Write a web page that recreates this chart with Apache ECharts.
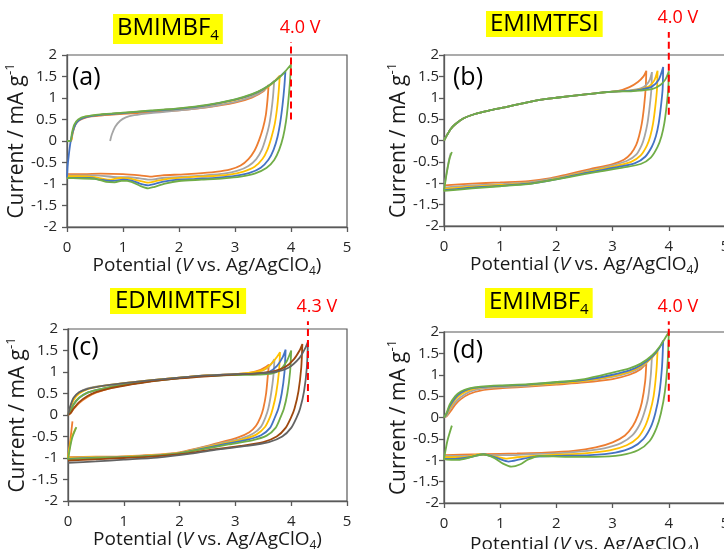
<!DOCTYPE html>
<html>
<head>
<meta charset="utf-8">
<script src="https://cdn.jsdelivr.net/npm/echarts@6/dist/echarts.min.js"></script>
<style>
  html, body { margin: 0; padding: 0; background: #fff; }
  #chart { width: 724px; height: 549px; }
</style>
</head>
<body>
<div id="chart"></div>
<script>
"use strict";

// ---- data: [potential V, current mA/g] ----

// (a) BMIMBF4
const aOrange = [[0,0],[0.07,0],[0.1,0.18],[0.15,0.38],[0.22,0.48],[0.35,0.55],[0.6,0.59],[1,0.63],[1.5,0.67],[2,0.71],[2.5,0.78],[3,0.89],[3.3,1.01],[3.5,1.15],[3.6,1.3],
  [3.58,0.95],[3.55,0.6],[3.5,0.3],[3.43,0.02],[3.35,-0.22],[3.24,-0.42],[3.1,-0.57],[2.92,-0.66],[2.65,-0.72],[2.3,-0.76],[2,-0.78],[1.7,-0.8],[1.5,-0.83],[1.3,-0.8],[1,-0.77],[0.6,-0.76],[0.3,-0.77],[0,-0.77]];
const aGray = [[0.77,0],[0.8,0.15],[0.86,0.33],[0.95,0.47],[1.05,0.55],[1.2,0.6],[1.5,0.65],[2,0.71],[2.5,0.79],[3,0.91],[3.3,1.03],[3.5,1.17],[3.7,1.4],
  [3.68,1.05],[3.65,0.7],[3.61,0.37],[3.55,0.07],[3.48,-0.2],[3.38,-0.42],[3.24,-0.58],[3.05,-0.69],[2.8,-0.76],[2.45,-0.8],[2.1,-0.83],[1.7,-0.86],[1.5,-0.9],[1.3,-0.87],[1.1,-0.84],[0.9,-0.84],[0.5,-0.8],[0,-0.8]];
const aYellow = [[0,0],[0.07,0],[0.1,0.2],[0.15,0.4],[0.22,0.5],[0.35,0.57],[0.6,0.61],[1,0.65],[1.5,0.7],[2,0.75],[2.5,0.83],[3,0.95],[3.3,1.07],[3.5,1.19],[3.65,1.32],[3.8,1.52],
  [3.78,1.15],[3.75,0.75],[3.71,0.4],[3.65,0.08],[3.58,-0.2],[3.49,-0.42],[3.35,-0.6],[3.15,-0.71],[2.9,-0.78],[2.55,-0.82],[2.2,-0.84],[1.8,-0.88],[1.6,-0.93],[1.45,-0.97],[1.3,-0.93],[1.1,-0.87],[0.95,-0.86],[0.75,-0.9],[0.5,-0.84],[0.2,-0.82],[0,-0.82]];
const aBlue = [[0,-0.85],[0.01,-0.6],[0.03,-0.35],[0.06,-0.05],[0.1,0.2],[0.15,0.38],[0.22,0.49],[0.35,0.56],[0.6,0.61],[1,0.65],[1.5,0.7],[2,0.75],[2.5,0.83],[3,0.96],[3.3,1.08],[3.5,1.2],[3.7,1.38],[3.9,1.62],
  [3.88,1.25],[3.85,0.85],[3.81,0.45],[3.76,0.1],[3.69,-0.2],[3.6,-0.43],[3.46,-0.62],[3.26,-0.74],[3,-0.81],[2.7,-0.85],[2.3,-0.88],[1.9,-0.91],[1.7,-0.95],[1.45,-1.03],[1.3,-0.99],[1.15,-0.92],[1,-0.9],[0.8,-0.93],[0.6,-0.9],[0.4,-0.86],[0,-0.86]];
const aGreen = [[0,0],[0.06,0],[0.09,0.2],[0.13,0.38],[0.2,0.5],[0.33,0.57],[0.6,0.62],[1,0.66],[1.5,0.71],[2,0.76],[2.5,0.84],[3,0.97],[3.3,1.09],[3.5,1.21],[3.7,1.38],[3.85,1.55],[4,1.78],
  [3.98,1.35],[3.95,0.9],[3.91,0.45],[3.86,0.1],[3.79,-0.2],[3.7,-0.44],[3.56,-0.63],[3.35,-0.76],[3.1,-0.83],[2.8,-0.87],[2.4,-0.9],[2,-0.93],[1.75,-0.99],[1.55,-1.07],[1.45,-1.1],[1.3,-1.04],[1.15,-0.95],[1,-0.92],[0.85,-0.96],[0.7,-0.95],[0.5,-0.88],[0.2,-0.87],[0,-0.86]];

// (b) EMIMTFSI
const bOrange = [[0,0],[0.05,0.12],[0.12,0.27],[0.2,0.38],[0.35,0.52],[0.55,0.62],[0.8,0.7],[1.1,0.78],[1.4,0.87],[1.7,0.95],[2,1],[2.4,1.06],[2.8,1.12],[3.1,1.16],[3.3,1.25],[3.45,1.37],[3.55,1.5],[3.6,1.63],
  [3.59,1.25],[3.56,0.8],[3.52,0.4],[3.47,0.1],[3.42,-0.1],[3.33,-0.3],[3.2,-0.45],[3,-0.55],[2.6,-0.67],[2.2,-0.79],[1.9,-0.88],[1.5,-0.95],[1,-0.98],[0.5,-1.01],[0,-1.05]];
const bGray = [[0,0],[0.05,0.12],[0.12,0.27],[0.2,0.38],[0.35,0.52],[0.55,0.62],[0.8,0.7],[1.1,0.78],[1.4,0.87],[1.7,0.95],[2,1],[2.4,1.06],[2.8,1.12],[3.1,1.15],[3.3,1.17],[3.5,1.22],[3.6,1.3],[3.66,1.42],[3.7,1.6],
  [3.69,1.2],[3.66,0.8],[3.62,0.4],[3.57,0.1],[3.52,-0.1],[3.42,-0.33],[3.25,-0.48],[3,-0.58],[2.6,-0.7],[2.2,-0.82],[1.9,-0.9],[1.5,-0.98],[1,-1.02],[0.5,-1.05],[0,-1.1],[0.04,-0.8],[0.09,-0.45],[0.12,-0.3]];
const bYellow = [[0,0],[0.05,0.12],[0.12,0.27],[0.2,0.38],[0.35,0.52],[0.55,0.62],[0.8,0.7],[1.1,0.78],[1.4,0.87],[1.7,0.95],[2,1],[2.4,1.06],[2.8,1.12],[3.1,1.15],[3.3,1.16],[3.5,1.2],[3.65,1.27],[3.74,1.4],[3.8,1.63],
  [3.79,1.2],[3.76,0.8],[3.72,0.4],[3.67,0.1],[3.61,-0.12],[3.5,-0.35],[3.33,-0.5],[3.05,-0.6],[2.6,-0.72],[2.2,-0.84],[1.9,-0.92],[1.5,-1],[1,-1.04],[0.5,-1.08],[0,-1.13]];
const bBlue = [[0,0],[0.05,0.12],[0.12,0.27],[0.2,0.38],[0.35,0.52],[0.55,0.62],[0.8,0.7],[1.1,0.78],[1.4,0.87],[1.7,0.95],[2,1],[2.4,1.06],[2.8,1.12],[3.1,1.15],[3.3,1.16],[3.5,1.19],[3.7,1.26],[3.82,1.42],[3.9,1.72],
  [3.89,1.2],[3.86,0.8],[3.82,0.4],[3.77,0.1],[3.7,-0.14],[3.58,-0.38],[3.4,-0.53],[3.1,-0.62],[2.6,-0.74],[2.2,-0.85],[1.9,-0.93],[1.5,-1.01],[1,-1.06],[0.5,-1.1],[0,-1.16]];
const bGreen = [[0,0],[0.05,0.12],[0.12,0.27],[0.2,0.38],[0.35,0.52],[0.55,0.62],[0.8,0.7],[1.1,0.78],[1.4,0.87],[1.7,0.95],[2,1],[2.4,1.06],[2.8,1.12],[3.1,1.15],[3.3,1.15],[3.5,1.17],[3.7,1.2],[3.85,1.3],[3.94,1.43],[4,1.62],
  [3.99,1.2],[3.96,0.8],[3.92,0.4],[3.87,0.1],[3.8,-0.15],[3.68,-0.4],[3.5,-0.55],[3.2,-0.63],[2.7,-0.74],[2.2,-0.86],[1.9,-0.93],[1.5,-1.02],[1,-1.07],[0.5,-1.12],[0,-1.18],[0.05,-0.75],[0.1,-0.42],[0.14,-0.27]];

// (c) EDMIMTFSI
const cOrange = [[0,0],[0.05,0.05],[0.1,0.14],[0.2,0.28],[0.35,0.42],[0.5,0.52],[0.75,0.62],[1,0.69],[1.5,0.8],[2,0.87],[2.5,0.92],[3,0.95],[3.3,0.99],[3.45,1.05],[3.55,1.12],[3.6,1.17],
  [3.58,0.9],[3.55,0.5],[3.5,0.15],[3.45,-0.05],[3.37,-0.25],[3.25,-0.4],[3.05,-0.52],[2.7,-0.65],[2.3,-0.78],[2,-0.87],[1.5,-0.93],[1,-0.96],[0.5,-0.97],[0,-0.98],[0.04,-0.6],[0.08,-0.15]];
const cGray = [[0,0],[0.04,0.18],[0.1,0.38],[0.2,0.53],[0.35,0.62],[0.5,0.66],[0.75,0.7],[1,0.74],[1.5,0.81],[2,0.87],[2.5,0.92],[3,0.95],[3.3,0.98],[3.5,1.04],[3.62,1.15],[3.7,1.3],
  [3.68,0.9],[3.64,0.5],[3.59,0.15],[3.54,-0.05],[3.46,-0.27],[3.32,-0.43],[3.1,-0.55],[2.7,-0.67],[2.3,-0.79],[2,-0.88],[1.5,-0.94],[1,-0.97],[0.5,-0.98],[0,-1]];
const cYellow = [[0,0],[0.04,0.15],[0.1,0.35],[0.2,0.5],[0.35,0.6],[0.5,0.65],[0.75,0.7],[1,0.74],[1.5,0.81],[2,0.87],[2.5,0.92],[3,0.95],[3.3,0.99],[3.5,1.05],[3.65,1.2],[3.75,1.36],[3.8,1.46],
  [3.78,1],[3.73,0.5],[3.67,0.15],[3.62,-0.05],[3.53,-0.28],[3.38,-0.45],[3.15,-0.56],[2.75,-0.67],[2.3,-0.8],[2,-0.88],[1.5,-0.94],[1,-0.97],[0.5,-0.98],[0,-1],[0.06,-0.55],[0.14,-0.3]];
const cBlue = [[0,0],[0.05,0.1],[0.1,0.25],[0.2,0.4],[0.35,0.52],[0.5,0.58],[0.75,0.65],[1,0.7],[1.5,0.79],[2,0.86],[2.5,0.91],[3,0.94],[3.4,0.96],[3.6,1],[3.75,1.15],[3.85,1.35],[3.9,1.52],
  [3.88,1],[3.83,0.5],[3.77,0.15],[3.71,-0.05],[3.62,-0.3],[3.46,-0.47],[3.2,-0.58],[2.8,-0.68],[2.3,-0.81],[2,-0.89],[1.5,-0.95],[1,-0.98],[0.5,-0.99],[0,-1.02]];
const cGreen = [[0,0],[0.05,0.1],[0.1,0.24],[0.2,0.4],[0.35,0.52],[0.5,0.58],[0.75,0.65],[1,0.7],[1.5,0.79],[2,0.86],[2.5,0.91],[3,0.93],[3.4,0.94],[3.65,0.96],[3.8,1.05],[3.92,1.25],[4,1.5],
  [3.98,1],[3.93,0.5],[3.87,0.15],[3.81,-0.05],[3.72,-0.3],[3.56,-0.48],[3.3,-0.59],[2.9,-0.68],[2.4,-0.8],[2,-0.89],[1.5,-0.95],[1,-0.98],[0.5,-1],[0,-1.03],[0.07,-0.55],[0.15,-0.28]];
const cBrown = [[0,0],[0.05,0.05],[0.1,0.15],[0.2,0.3],[0.35,0.44],[0.5,0.53],[0.75,0.62],[1,0.68],[1.5,0.78],[2,0.85],[2.5,0.9],[3,0.94],[3.4,0.97],[3.7,1.02],[3.9,1.12],[4.05,1.3],[4.15,1.5],[4.2,1.65],
  [4.18,1.1],[4.13,0.55],[4.06,0.15],[4,-0.05],[3.9,-0.3],[3.74,-0.5],[3.5,-0.63],[3.1,-0.72],[2.6,-0.8],[2.1,-0.9],[1.5,-0.97],[1,-1],[0.5,-1.03],[0,-1.06]];
const cDark = [[0,0],[0.04,0.2],[0.1,0.4],[0.2,0.53],[0.35,0.61],[0.5,0.65],[0.75,0.7],[1,0.74],[1.5,0.81],[2,0.87],[2.5,0.92],[3,0.95],[3.4,0.97],[3.7,1],[3.95,1.1],[4.15,1.33],[4.25,1.55],[4.3,1.7],
  [4.28,1.1],[4.23,0.55],[4.16,0.15],[4.1,-0.05],[4,-0.3],[3.84,-0.5],[3.6,-0.63],[3.2,-0.72],[2.7,-0.8],[2.2,-0.9],[1.6,-0.99],[1,-1.04],[0.5,-1.08],[0,-1.11]];

// (d) EMIMBF4
const dOrange = [[0,0],[0.05,0.03],[0.12,0.15],[0.2,0.3],[0.3,0.43],[0.45,0.55],[0.65,0.63],[1,0.68],[1.5,0.72],[2,0.77],[2.5,0.82],[3,0.9],[3.3,1],[3.5,1.13],[3.6,1.27],
  [3.58,0.85],[3.52,0.35],[3.45,0.05],[3.36,-0.2],[3.22,-0.42],[3,-0.58],[2.7,-0.7],[2.3,-0.78],[1.8,-0.82],[1.3,-0.84],[0.7,-0.86],[0.3,-0.87],[0,-0.88]];
const dGray = [[0,0],[0.05,0.05],[0.1,0.18],[0.2,0.36],[0.3,0.48],[0.45,0.6],[0.65,0.67],[1,0.71],[1.5,0.74],[2,0.79],[2.5,0.85],[3,0.95],[3.3,1.05],[3.5,1.17],[3.62,1.3],[3.7,1.45],
  [3.68,1],[3.63,0.45],[3.56,0.1],[3.48,-0.17],[3.35,-0.42],[3.15,-0.6],[2.85,-0.72],[2.4,-0.8],[2,-0.84],[1.5,-0.86],[1.2,-0.88],[0.9,-0.88],[0.65,-0.87],[0.4,-0.9],[0,-0.9]];
const dYellow = [[0,0],[0.05,0.08],[0.1,0.22],[0.2,0.42],[0.3,0.54],[0.45,0.64],[0.65,0.7],[1,0.73],[1.5,0.76],[2,0.8],[2.5,0.86],[3,0.97],[3.3,1.07],[3.5,1.2],[3.68,1.37],[3.8,1.57],
  [3.78,1.1],[3.73,0.5],[3.66,0.1],[3.58,-0.2],[3.45,-0.47],[3.25,-0.65],[2.95,-0.77],[2.5,-0.84],[2,-0.87],[1.6,-0.9],[1.3,-0.93],[1.1,-0.96],[0.9,-0.91],[0.65,-0.86],[0.4,-0.92],[0,-0.93]];
const dBlue = [[0,0],[0.05,0.1],[0.1,0.26],[0.2,0.46],[0.3,0.58],[0.45,0.67],[0.65,0.71],[1,0.74],[1.5,0.77],[2,0.82],[2.5,0.88],[3,1],[3.3,1.1],[3.5,1.22],[3.7,1.42],[3.82,1.6],[3.9,1.8],
  [3.88,1.2],[3.83,0.55],[3.76,0.1],[3.68,-0.22],[3.55,-0.5],[3.35,-0.7],[3.05,-0.82],[2.6,-0.88],[2,-0.9],[1.6,-0.92],[1.35,-0.98],[1.15,-1.03],[0.95,-0.95],[0.7,-0.86],[0.45,-0.93],[0.2,-0.97],[0,-0.97]];
const dGreen = [[0,0],[0.05,0.12],[0.1,0.3],[0.2,0.5],[0.3,0.61],[0.45,0.68],[0.65,0.72],[1,0.75],[1.5,0.78],[2,0.83],[2.5,0.9],[3,1.05],[3.3,1.15],[3.5,1.26],[3.7,1.45],[3.85,1.68],[4,2],
  [3.98,1.3],[3.93,0.6],[3.86,0.1],[3.78,-0.25],[3.66,-0.55],[3.46,-0.76],[3.15,-0.88],[2.7,-0.92],[2.2,-0.92],[1.7,-0.9],[1.5,-0.98],[1.35,-1.1],[1.2,-1.15],[1.05,-1.08],[0.9,-0.95],[0.7,-0.86],[0.5,-0.92],[0.25,-0.99],[0,-0.98],[0.06,-0.55],[0.14,-0.19]];

// cut-off potential markers (red dashed line), per panel
const limitV = [4.0, 4.0, 4.3, 4.0];
const limitLow = [0.5, 0.6, 0.3, 0.37];
const limitHigh = [2.3, 2.54, 2.18, 2.25];

// axis ticks
const xTicks = [0, 1, 2, 3, 4, 5];
const yTicks = [-2, -1.5, -1, -0.5, 0, 0.5, 1, 1.5, 2];

const electrolytes = [["BMIMBF", "4"], ["EMIMTFSI", ""], ["EDMIMTFSI", ""], ["EMIMBF", "4"]];
const panelTags = ["(a)", "(b)", "(c)", "(d)"];

// ---- styling ----
const FONT = "'Open Sans', sans-serif";
const C = {
    orange: "#ED7D31", gray: "#A5A5A5", yellow: "#FFC000", blue: "#4472C4",
    green: "#70AD47", brown: "#9E480E", dark: "#636363"
};
const AXIS = "#595959";

const panels = [
    { grid: { left: 67, top: 55, width: 280, height: 172 },
      curves: [[aOrange, "orange"], [aGray, "gray"], [aYellow, "yellow"], [aBlue, "blue"], [aGreen, "green"]],
      head: { left: 113, top: 11, pad: [2, 4, 1, 4] }, tag: { left: 72, top: 63 },
      yGap: 33, xGap: 26, yMargin: 10 },
    { grid: { left: 444, top: 55, width: 281, height: 171 },
      curves: [[bOrange, "orange"], [bGray, "gray"], [bYellow, "yellow"], [bBlue, "blue"], [bGreen, "green"]],
      head: { left: 486, top: 10, pad: [1, 4, 1, 4] }, tag: { left: 453, top: 63 },
      yGap: 28, xGap: 27, yMargin: 5 },
    { grid: { left: 68, top: 329, width: 279, height: 172 },
      curves: [[cOrange, "orange"], [cGray, "gray"], [cYellow, "yellow"], [cBlue, "blue"], [cGreen, "green"], [cBrown, "brown"], [cDark, "dark"]],
      head: { left: 110, top: 287, pad: [1, 5, 1, 5] }, tag: { left: 72, top: 333 },
      yGap: 34, xGap: 24, yMargin: 10 },
    { grid: { left: 444, top: 332, width: 281, height: 171 },
      curves: [[dOrange, "orange"], [dGray, "gray"], [dYellow, "yellow"], [dBlue, "blue"], [dGreen, "green"]],
      head: { left: 485, top: 285, pad: [2, 4, 1, 4] }, tag: { left: 453, top: 336 },
      yGap: 28, xGap: 30, yMargin: 5 }
];

function richBase(size) {
    return { fontFamily: FONT, fontSize: size, fontWeight: "normal", color: "#1a1a1a" };
}

let grids = [], xAxes = [], yAxes = [], series = [], titles = [];

panels.forEach((p, i) => {
    grids.push(Object.assign({ containLabel: false, outerBoundsMode: "none" }, p.grid));

    xAxes.push({
        gridIndex: i, type: "value", min: xTicks[0], max: xTicks[xTicks.length - 1], interval: 1,
        axisLine: { show: true, onZero: false, lineStyle: { color: AXIS, width: 1.3 } },
        axisTick: { show: true, length: 5, lineStyle: { color: AXIS, width: 1.3 } },
        splitLine: { show: false },
        axisLabel: { fontFamily: FONT, fontSize: 15, color: "#262626", margin: 13, showMinLabel: true, showMaxLabel: true, hideOverlap: false },
        name: "{a|Potential (}{i|V}{a| vs. Ag/AgClO}{s|4}{a|)}",
        nameLocation: "middle", nameGap: p.xGap,
        nameTextStyle: {
            rich: {
                a: Object.assign(richBase(19), { lineHeight: 24 }),
                i: Object.assign(richBase(19), { fontStyle: "italic", lineHeight: 24 }),
                s: Object.assign(richBase(12), { lineHeight: 12, verticalAlign: "bottom" })
            }
        }
    });

    yAxes.push({
        gridIndex: i, type: "value", min: yTicks[0], max: yTicks[yTicks.length - 1], interval: 0.5,
        axisLine: { show: true, lineStyle: { color: AXIS, width: 1.3 } },
        axisTick: { show: true, length: 5, lineStyle: { color: AXIS, width: 1.3 } },
        splitLine: { show: false },
        axisLabel: { fontFamily: FONT, fontSize: 15, color: "#262626", margin: p.yMargin, showMinLabel: true, showMaxLabel: true, hideOverlap: false },
        name: "{a|Current / mA g}{s|-1}",
        nameLocation: "middle", nameGap: p.yGap,
        nameTextStyle: {
            rich: {
                a: Object.assign(richBase(21), { lineHeight: 26 }),
                s: Object.assign(richBase(13), { lineHeight: 13, verticalAlign: "top" })
            }
        }
    });

    p.curves.forEach(([data, col]) => {
        series.push({
            type: "line", xAxisIndex: i, yAxisIndex: i, data: data,
            showSymbol: false, smooth: 0.25, silent: true,
            lineStyle: { color: C[col], width: 1.8 }, itemStyle: { color: C[col] }
        });
    });

    // red dashed marker for the cut-off potential
    series.push({
        type: "line", xAxisIndex: i, yAxisIndex: i, clip: false, silent: true, z: 5,
        showSymbol: true, symbolSize: 0,
        lineStyle: { color: "#FF0000", width: 2, type: [7, 4] },
        itemStyle: { color: "#FF0000" },
        data: [
            [limitV[i], limitLow[i]],
            { value: [limitV[i], limitHigh[i]],
              label: { show: true, position: "top", distance: 5, offset: [9, 0],
                       formatter: limitV[i].toFixed(1) + " V",
                       fontFamily: FONT, fontSize: 18, color: "#FF0000" } }
        ]
    });

    const [name, sub] = electrolytes[i];
    titles.push({
        text: sub ? `{t|${name}}{s|${sub}}` : `{t|${name}}`,
        left: p.head.left, top: p.head.top, padding: p.head.pad,
        backgroundColor: "#FFFF00",
        textStyle: {
            fontWeight: "normal",
            rich: {
                t: Object.assign(richBase(24), { color: "#000", lineHeight: sub ? 30 : 26 }),
                s: Object.assign(richBase(15), { color: "#000", lineHeight: 15, verticalAlign: "bottom" })
            }
        }
    });
    titles.push({
        text: panelTags[i], left: p.tag.left, top: p.tag.top, padding: 0,
        textStyle: { fontFamily: FONT, fontSize: 25, fontWeight: "normal", color: "#000", lineHeight: 30 }
    });
});

let chart = echarts.init(document.getElementById("chart"), null, { renderer: "canvas" });
chart.setOption({
    backgroundColor: "#fff",
    animation: false,
    title: titles,
    grid: grids.map(g => Object.assign(g, { show: true, borderColor: AXIS, borderWidth: 1.2 })),
    xAxis: xAxes,
    yAxis: yAxes,
    series: series
});
</script>
</body>
</html>
